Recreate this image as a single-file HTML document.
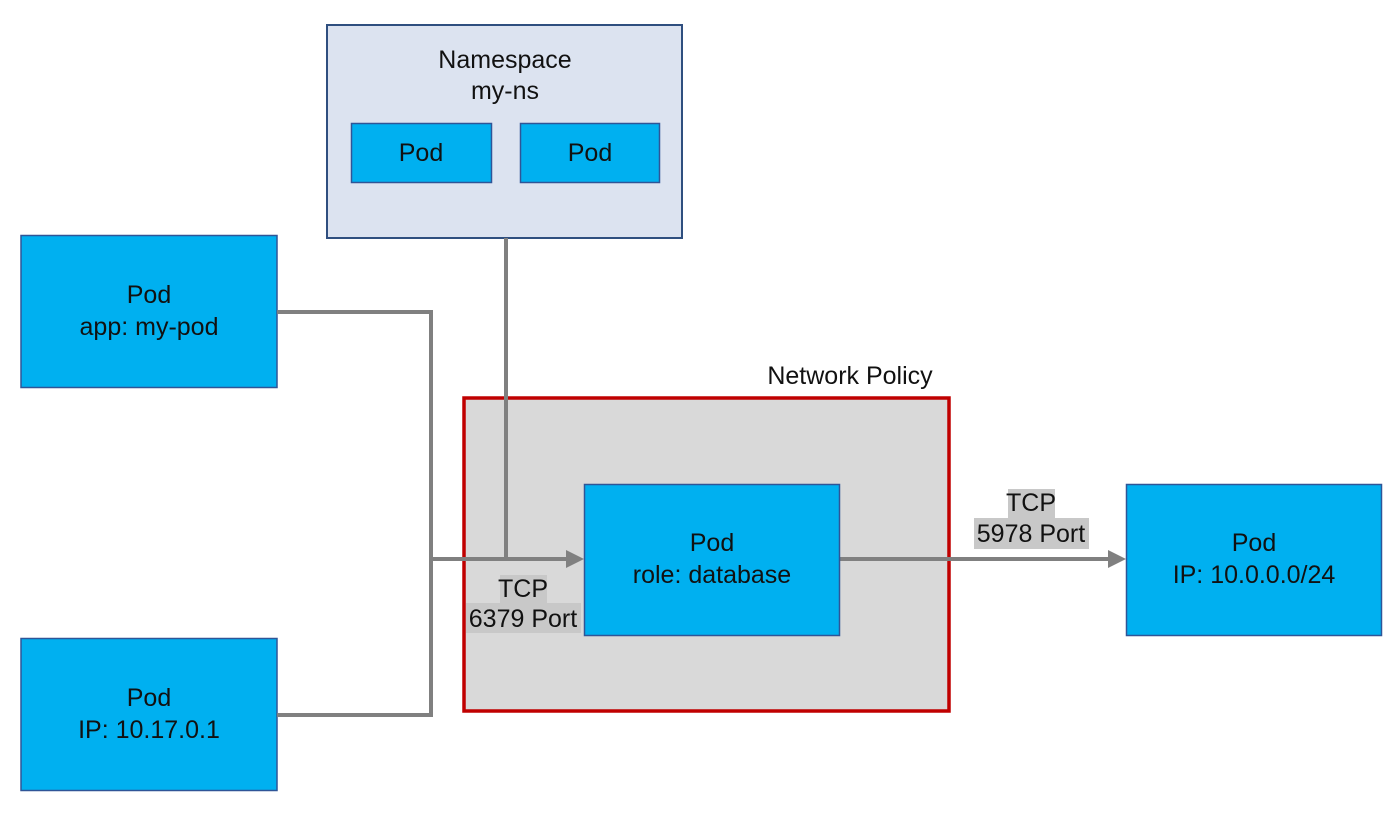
<!DOCTYPE html>
<html><head><meta charset="utf-8"><style>
html,body{margin:0;padding:0;background:#fff;width:1400px;height:817px;overflow:hidden}
svg text{font-family:"Liberation Sans",sans-serif;font-size:25px;fill:#111}
</style></head><body>
<svg width="1400" height="817" viewBox="0 0 1400 817" xmlns="http://www.w3.org/2000/svg">
<!-- Namespace -->
<rect x="327" y="25" width="355" height="213" fill="#dce3f0" stroke="#2f4f7f" stroke-width="2"/>
<text x="505" y="68" text-anchor="middle">Namespace</text>
<text x="505" y="99" text-anchor="middle">my-ns</text>
<rect x="351.5" y="123.5" width="140" height="59" fill="#00b0f0" stroke="#2f5597" stroke-width="1.5"/>
<text x="421" y="161" text-anchor="middle">Pod</text>
<rect x="520.5" y="123.5" width="139" height="59" fill="#00b0f0" stroke="#2f5597" stroke-width="1.5"/>
<text x="590" y="161" text-anchor="middle">Pod</text>

<!-- Network policy -->
<rect x="464" y="398" width="485" height="313" fill="#d9d9d9" stroke="#c00000" stroke-width="3.5"/>
<text x="850" y="384" text-anchor="middle">Network Policy</text>

<!-- left pods -->
<rect x="21" y="235.5" width="256" height="152" fill="#00b0f0" stroke="#2f5597" stroke-width="1.5"/>
<text x="149" y="303" text-anchor="middle">Pod</text>
<text x="149" y="335" text-anchor="middle">app: my-pod</text>
<rect x="21" y="638.5" width="256" height="152" fill="#00b0f0" stroke="#2f5597" stroke-width="1.5"/>
<text x="149" y="706" text-anchor="middle">Pod</text>
<text x="149" y="738" text-anchor="middle">IP: 10.17.0.1</text>

<!-- connectors -->
<g stroke="#808080" stroke-width="4" fill="none">
<polyline points="277,312 431,312 431,715 277,715"/>
<line x1="431" y1="559" x2="568" y2="559"/>
<line x1="506" y1="238" x2="506" y2="559"/>
<line x1="840" y1="559" x2="1110" y2="559"/>
</g>
<polygon points="566,550 584,559 566,568" fill="#808080"/>
<polygon points="1108,550 1126,559 1108,568" fill="#808080"/>

<!-- center pod -->
<rect x="584.5" y="484.5" width="255" height="151" fill="#00b0f0" stroke="#2f5597" stroke-width="1.5"/>
<text x="712" y="551" text-anchor="middle">Pod</text>
<text x="712" y="583" text-anchor="middle">role: database</text>

<!-- right pod -->
<rect x="1126.5" y="484.5" width="255" height="151" fill="#00b0f0" stroke="#2f5597" stroke-width="1.5"/>
<text x="1254" y="551" text-anchor="middle">Pod</text>
<text x="1254" y="583" text-anchor="middle">IP: 10.0.0.0/24</text>

<!-- labels -->
<rect x="500" y="575" width="47" height="30" fill="#c8c8c8"/>
<rect x="466" y="603" width="115" height="30" fill="#c8c8c8"/>
<text x="523" y="597" text-anchor="middle">TCP</text>
<text x="523" y="627" text-anchor="middle">6379 Port</text>
<rect x="1008" y="489" width="47" height="30" fill="#c8c8c8"/>
<rect x="974" y="518" width="115" height="31" fill="#c8c8c8"/>
<text x="1031" y="511" text-anchor="middle">TCP</text>
<text x="1031" y="542" text-anchor="middle">5978 Port</text>
</svg>
</body></html>
